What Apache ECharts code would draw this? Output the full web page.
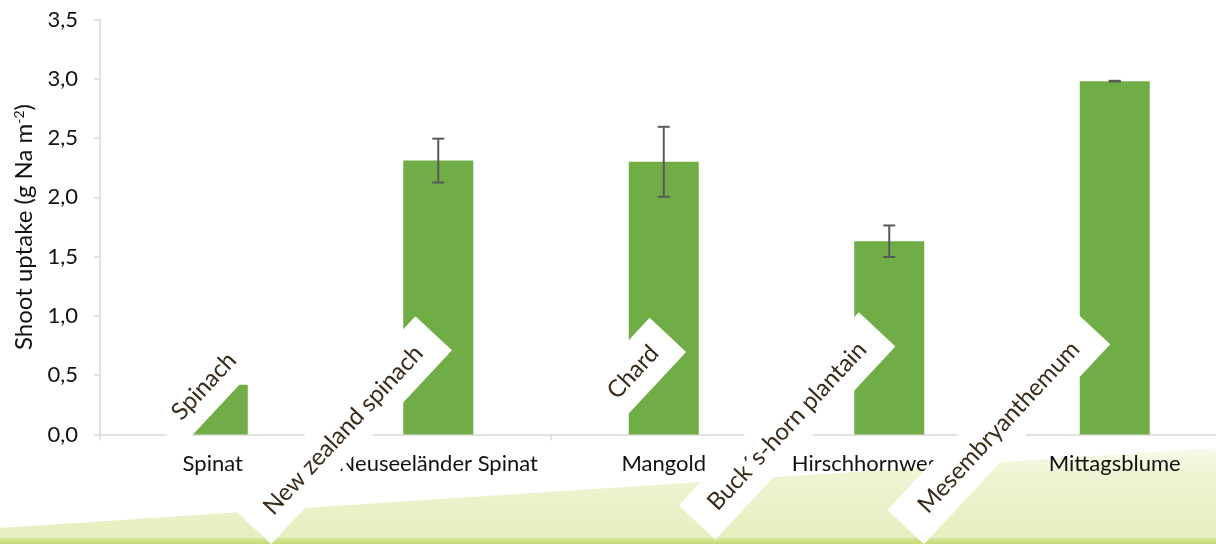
<!DOCTYPE html>
<html>
<head>
<meta charset="utf-8">
<script src="https://cdn.jsdelivr.net/npm/echarts@6/dist/echarts.min.js"></script>
<style>
  html, body { margin: 0; padding: 0; background: #fff; }
  #main { width: 1216px; height: 544px; }
</style>
</head>
<body>
<div id="main"></div>
<script>
// values
const categories = ['Spinat', 'Neuseeländer Spinat', 'Mangold', 'Hirschhornwegerich', 'Mittagsblume']
const englishNames = ['Spinach', 'New zealand spinach', 'Chard', 'Buck´s-horn plantain', 'Mesembryanthemum']
const uptake = [0.42, 2.31, 2.30, 1.63, 2.98]
const uptakeErr = [0.04, 0.185, 0.295, 0.133, 0.003]

// where the white english name boxes sit (category shift, y level, box length)
const nameBoxes = [
  { shift: -0.039, level: 0.408, len: 122 },
  { shift: -0.421, level: 0.037, len: 265 },
  { shift: -0.136, level: 0.526, len: 102 },
  { shift: -0.453, level: 0.072, len: 264 },
  { shift: -0.514, level: 0.062, len: 273 }
]

const myChart = echarts.init(document.getElementById('main'))

const option = {
  animation: false,
  textStyle: { fontFamily: 'Lato' },
  graphic: [
    {
      type: 'polygon',
      z: -10,
      shape: { points: [[0, 528], [1216, 448], [1216, 544], [0, 544]] },
      style: {
        fill: new echarts.graphic.LinearGradient(0, 0, 0, 1, [
          { offset: 0, color: '#f7faea' },
          { offset: 0.3, color: '#eef4d2' },
          { offset: 1, color: '#e5eebd' }
        ])
      }
    },
    {
      type: 'rect',
      z: -9,
      shape: { x: 0, y: 538, width: 1216, height: 6 },
      style: {
        fill: new echarts.graphic.LinearGradient(0, 0, 0, 1, [
          { offset: 0, color: '#d8e7a0' },
          { offset: 1, color: '#c4da74' }
        ])
      }
    }
  ],
  grid: { left: 100, top: 19.5, width: 1127.5, height: 415, containLabel: false, outerBoundsMode: 'none' },
  xAxis: {
    type: 'category',
    data: categories,
    axisLine: { lineStyle: { color: '#d9d9d9', width: 1.5 } },
    axisTick: { show: true, length: 6, lineStyle: { color: '#d9d9d9', width: 1.5 } },
    axisLabel: { color: '#111', fontSize: 22, margin: 18, interval: 0 }
  },
  yAxis: {
    type: 'value',
    min: 0,
    max: 3.5,
    interval: 0.5,
    name: 'Shoot uptake (g Na m{sup|-2})',
    nameLocation: 'middle',
    nameGap: 60,
    nameRotate: 90,
    nameTextStyle: {
      color: '#111',
      fontSize: 24,
      rich: { sup: { fontSize: 14, verticalAlign: 'top', color: '#111' } }
    },
    axisLine: { show: true, lineStyle: { color: '#d9d9d9', width: 1.5 } },
    axisTick: { show: true, length: 6, lineStyle: { color: '#d9d9d9', width: 1.5 } },
    splitLine: { show: false },
    axisLabel: {
      color: '#111',
      fontSize: 22,
      margin: 22,
      formatter: v => v.toFixed(1).replace('.', ',')
    }
  },
  series: [
    {
      type: 'bar',
      data: uptake,
      barWidth: 70,
      itemStyle: { color: '#70ad47' },
      z: 2
    },
    {
      type: 'custom',
      z: 3,
      clip: false,
      data: uptake.map((v, i) => [i, v - uptakeErr[i], v + uptakeErr[i]]),
      renderItem: function (params, api) {
        const lo = api.coord([api.value(0), api.value(1)])
        const hi = api.coord([api.value(0), api.value(2)])
        const x = lo[0]
        const st = { stroke: '#595959', lineWidth: 2 }
        return {
          type: 'group',
          children: [
            { type: 'line', shape: { x1: x, y1: lo[1], x2: x, y2: hi[1] }, style: st },
            { type: 'line', shape: { x1: x - 6, y1: lo[1], x2: x + 6, y2: lo[1] }, style: st },
            { type: 'line', shape: { x1: x - 6, y1: hi[1], x2: x + 6, y2: hi[1] }, style: st }
          ]
        }
      }
    },
    {
      type: 'custom',
      z: 10,
      clip: false,
      data: nameBoxes.map((b, i) => [i, b.level]),
      renderItem: function (params, api) {
        const i = api.value(0)
        const box = nameBoxes[i]
        const base = api.coord([i, api.value(1)])
        const band = api.size([1, 0])[0]
        return {
          type: 'group',
          x: base[0] + box.shift * band,
          y: base[1],
          rotation: 47 * Math.PI / 180,
          children: [
            {
              type: 'rect',
              shape: { x: -box.len / 2, y: -25, width: box.len, height: 50 },
              style: { fill: '#fff' }
            },
            {
              type: 'text',
              style: {
                text: englishNames[i],
                x: 0,
                y: 0,
                align: 'center',
                verticalAlign: 'middle',
                fill: '#3a2c1a',
                font: '24px Lato'
              }
            }
          ]
        }
      }
    }
  ]
}
myChart.setOption(option)
</script>
</body>
</html>
